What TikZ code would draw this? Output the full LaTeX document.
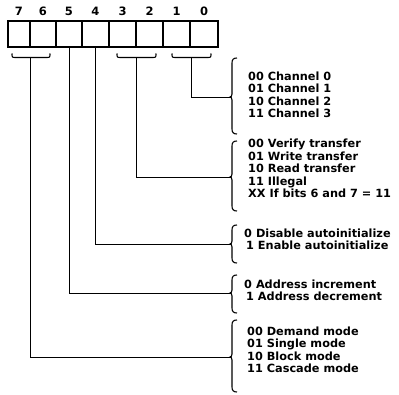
\documentclass[tikz,border=0pt]{standalone}
\usepackage{fontspec}
\setmainfont{DejaVu Sans}
\newcommand\bitbrace[2]{\draw[brc] (#1,53.5) .. controls (#1,57.5) .. (#1+4,57.5) -- (#2-4,57.5) .. controls (#2,57.5) .. (#2,53.5);}
\newcommand\fieldbrace[3]{\draw[brc] (237,#1) .. controls (233.5,#1) and (232,#1+1.5) .. (232,#1+5) -- (232,#2-3) .. controls (232,#2-1) and (231,#2) .. (230,#2) .. controls (231,#2) and (232,#2+1) .. (232,#2+3) -- (232,#3-5) .. controls (232,#3-1.5) and (233.5,#3) .. (237,#3);}
\begin{document}
\begin{tikzpicture}[x=1pt,y=-1pt,
  bitbox/.style={draw,line width=1.3pt,inner sep=0pt,minimum height=26pt},
  bitnum/.style={font=\fontsize{11.5}{12.6}\selectfont\bfseries,inner sep=0pt,anchor=base},
  lbl/.style={font=\fontsize{11.3}{12.6}\selectfont\bfseries,inner sep=0pt,anchor=base west},
  conn/.style={line width=0.9pt},
  brc/.style={line width=1.1pt}]
\useasboundingbox (0,0) rectangle (399,395);
% register boxes and bit numbers
\foreach \b/\l/\r in {7/8/30,6/30/56,5/56/82,4/82/109,3/109/136,2/136/163,1/163/190,0/190/218}{
  \pgfmathsetmacro\w{\r-\l}
  \pgfmathsetmacro\c{(\l+\r)/2}
  \node[bitbox,minimum width=\w pt] (b\b) at (\c,34) {};
  \node[bitnum] (n\b) at (\c,16) {\b};
}
% braces under bit pairs
\bitbrace{12}{50}
\bitbrace{117}{156}
\bitbrace{172}{211}
\coordinate (u76) at (30,57.5);
\coordinate (u32) at (136,57.5);
\coordinate (u10) at (191,57.5);
% field braces
\fieldbrace{58}{97}{134}
\fieldbrace{141}{177}{211}
\fieldbrace{225}{244}{263}
\fieldbrace{275}{293}{313}
\fieldbrace{320}{357}{392}
\coordinate (t10) at (230.5,97);
\coordinate (t32) at (230.5,177);
\coordinate (t4) at (230.5,244);
\coordinate (t5) at (230.5,293);
\coordinate (t76) at (230.5,357);
% connectors
\draw[conn] (u10) |- (t10);
\draw[conn] (u32) |- (t32);
\draw[conn] (b4.south) |- (t4);
\draw[conn] (b5.south) |- (t5);
\draw[conn] (u76) |- (t76);
% texts
\node[lbl] (c0) at (248,80.2) {00 Channel 0};
\node[lbl] (c1) at (248,92.8) {01 Channel 1};
\node[lbl] (c2) at (248,105.4) {10 Channel 2};
\node[lbl] (c3) at (248,118) {11 Channel 3};
\node[lbl] (v0) at (248,148) {00 Verify transfer};
\node[lbl] (v1) at (248,160.5) {01 Write transfer};
\node[lbl] (v2) at (248,173) {10 Read transfer};
\node[lbl] (v3) at (248,185.5) {11 Illegal};
\node[lbl] (v4) at (248,198) {XX If bits 6 and 7 = 11};
\node[lbl] (a0) at (244,237.5) {0 Disable autoinitialize};
\node[lbl] (a1) at (246,250) {1 Enable autoinitialize};
\node[lbl] (d0) at (244,288.5) {0 Address increment};
\node[lbl] (d1) at (246,301) {1 Address decrement};
\node[lbl] (m0) at (247,335) {00 Demand mode};
\node[lbl] (m1) at (247,347.5) {01 Single mode};
\node[lbl] (m2) at (247,360) {10 Block mode};
\node[lbl] (m3) at (247,372.5) {11 Cascade mode};
\end{tikzpicture}
\end{document}
